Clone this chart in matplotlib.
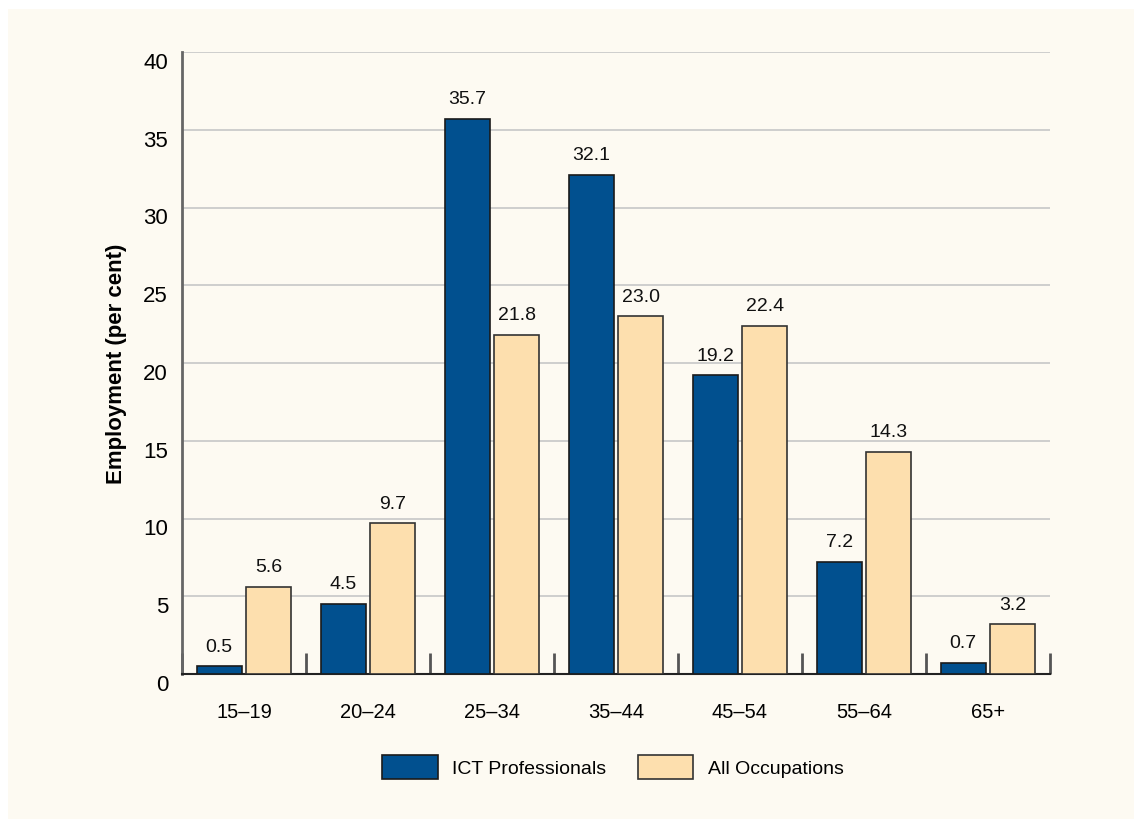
import numpy as np
import matplotlib.pyplot as plt
from matplotlib.patches import Rectangle

plt.rcParams['font.family'] = ['Liberation Sans', 'DejaVu Sans']

ages = ["15–19", "20–24", "25–34", "35–44", "45–54", "55–64", "65+"]
ict = [0.5, 4.5, 35.7, 32.1, 19.2, 7.2, 0.7]
allocc = [5.6, 9.7, 21.8, 23.0, 22.4, 14.3, 3.2]

navy = "#01508F"
cream = "#FDDFAE"
bg = "#FDFAF2"

fig = plt.figure(figsize=(11.34, 8.2), dpi=100)
fig.patch.set_facecolor("white")
fig.patches.append(Rectangle((8 / 1134, 0), 1, 1 - 10 / 820, transform=fig.transFigure,
                             facecolor=bg, edgecolor="none", zorder=-10))

ax = fig.add_axes([182 / 1134, 1 - 675 / 820, 868 / 1134, 622 / 820])
ax.patch.set_alpha(0)

x = np.arange(len(ages))
w = 0.36
b1 = ax.bar(x - 0.2, ict, w, color=navy, edgecolor="#1a1a1a", linewidth=1.2, zorder=3,
            label="ICT Professionals")
b2 = ax.bar(x + 0.2, allocc, w, color=cream, edgecolor="#333333", linewidth=1.2, zorder=3,
            label="All Occupations")

for bars, vals in [(b1, ict), (b2, allocc)]:
    for r, v in zip(bars, vals):
        ax.text(r.get_x() + r.get_width() / 2, v + 0.75, f"{v:.1f}", ha="center", va="bottom",
                fontsize=14, color="#111111", zorder=4)

ax.set_xlim(-0.5, len(ages) - 0.5)
ax.set_ylim(0, 40)
ax.set_yticks(range(0, 41, 5))
ax.yaxis.grid(True, color="#CBCBCB", linewidth=1.3, zorder=0)
ax.tick_params(axis="y", length=0, pad=10, labelsize=16)
for lab in ax.get_yticklabels():
    lab.set_verticalalignment("top")

ax.set_xticks(x)
ax.set_xticklabels(ages, fontsize=14.5)
ax.tick_params(axis="x", length=0, pad=20)
# category separators
ax.set_xticks(np.arange(-0.5, len(ages)), minor=True)
ax.tick_params(axis="x", which="minor", direction="in", length=15, width=2, color="#555555")

for s in ["top", "right"]:
    ax.spines[s].set_visible(False)
ax.spines["left"].set_color("#666666")
ax.spines["left"].set_linewidth(2)
ax.spines["bottom"].set_color("#222222")
ax.spines["bottom"].set_linewidth(1.5)

ax.set_ylabel("Employment (per cent)", fontsize=16, fontweight="bold", labelpad=12)

leg = fig.legend(handles=[b1, b2], loc="center", bbox_to_anchor=(613 / 1134, 1 - 768 / 820),
                 ncol=2, frameon=False, handlelength=2.85, handleheight=1.6, handletextpad=0.75,
                 columnspacing=1.6, prop={"size": 14})

fig.savefig("out.png", dpi=100, facecolor=fig.get_facecolor())
